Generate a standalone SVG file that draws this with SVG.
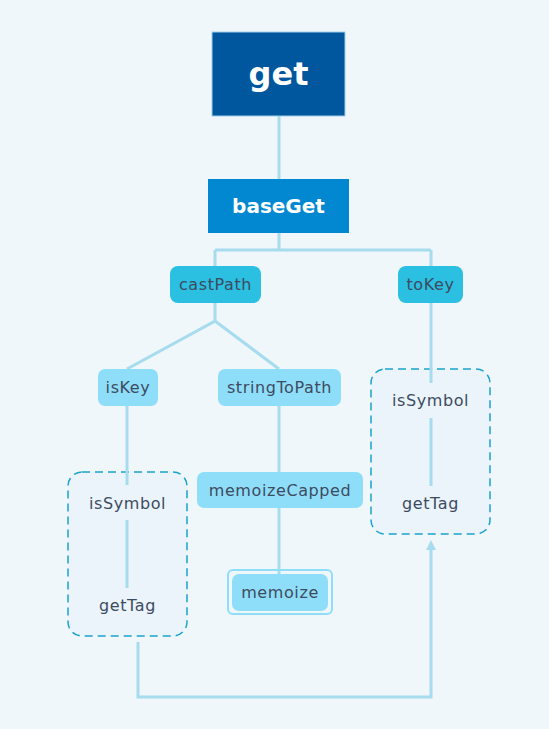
<svg xmlns="http://www.w3.org/2000/svg" width="549" height="729" viewBox="0 0 549 729">
<defs>
<style>
.conn{fill:none;stroke:#a6dcee;stroke-width:3}
.t{font-family:"DejaVu Sans","Noto Sans",sans-serif;font-size:16px;letter-spacing:0.6px;fill:#3d4b60;text-anchor:middle;dominant-baseline:central}
.tb{font-family:"DejaVu Sans","Noto Sans",sans-serif;font-weight:bold;fill:#ffffff;text-anchor:middle;dominant-baseline:central}
.dash{fill:#ebf4fb;stroke:#1ba3cd;stroke-width:1.5;stroke-dasharray:8 5}
.l2{fill:#2bbfe2}
.l3{fill:#8fdef9}
</style>
<marker id="arr" viewBox="0 0 10 10" refX="0" refY="5" markerWidth="10" markerHeight="10" markerUnits="userSpaceOnUse" orient="auto">
<path d="M0,0 L10,5 L0,10 Z" fill="#a6dcee"/>
</marker>
</defs>
<rect width="549" height="729" fill="#eff7fb"/>
<g id="connectors">
<path class="conn" d="M279,116 V179"/>
<path class="conn" d="M279,233 V250 M215,250 H431 M215,250 V266 M431,250 V266"/>
<path class="conn" d="M215,303 V321 L127,369 M215,321 L279,369"/>
<path class="conn" d="M431,303 V383"/>
<path class="conn" d="M127,406 V485"/>
<path class="conn" d="M279,406 V472"/>
<path class="conn" d="M279,508 V574"/>
<path class="conn" d="M138,642 V697 H431 V550" marker-end="url(#arr)"/>
</g>
<g id="get">
<rect x="212" y="32" width="133" height="84" fill="#00579d" stroke="#9fd0ea" stroke-width="1"/>
<text class="tb" x="278.5" y="74" font-size="32">get</text>
</g>
<g id="baseGet">
<rect x="208" y="179" width="141" height="54" fill="#0288d1"/>
<text class="tb" x="278.5" y="206" font-size="20">baseGet</text>
</g>
<g id="castPath">
<rect class="l2" x="170" y="266" width="91" height="37" rx="8"/>
<text class="t" x="215.5" y="284.5">castPath</text>
</g>
<g id="toKey">
<rect class="l2" x="398" y="266" width="65" height="37" rx="8"/>
<text class="t" x="430.5" y="284.5">toKey</text>
</g>
<g id="isKey">
<rect class="l3" x="98" y="369" width="60" height="37" rx="7"/>
<text class="t" x="128" y="387.5">isKey</text>
</g>
<g id="stringToPath">
<rect class="l3" x="218" y="369" width="123" height="37" rx="7"/>
<text class="t" x="279.5" y="387.5">stringToPath</text>
</g>
<g id="memoizeCapped">
<rect class="l3" x="197" y="472" width="166" height="36" rx="7"/>
<text class="t" x="280" y="490">memoizeCapped</text>
</g>
<g id="memoize">
<rect x="228" y="570" width="104" height="44" rx="5" fill="none" stroke="#8fdef9" stroke-width="2"/>
<rect class="l3" x="232" y="574" width="96" height="37" rx="7"/>
<text class="t" x="280" y="592.5">memoize</text>
</g>
<g id="group-left">
<rect class="dash" x="68" y="472" width="119" height="164" rx="14"/>
<path class="conn" d="M127,520 V588"/>
<path class="conn" d="M127,471 V485"/>
</g>
<g id="isSymbol-left"><text class="t" x="127.5" y="503">isSymbol</text></g>
<g id="getTag-left"><text class="t" x="127.5" y="605">getTag</text></g>
<g id="group-right">
<rect class="dash" x="371" y="369" width="119" height="165" rx="14"/>
<path class="conn" d="M431,418 V486"/>
<path class="conn" d="M431,368 V383"/>
</g>
<g id="isSymbol-right"><text class="t" x="430.5" y="400">isSymbol</text></g>
<g id="getTag-right"><text class="t" x="430.5" y="503">getTag</text></g>
</svg>
